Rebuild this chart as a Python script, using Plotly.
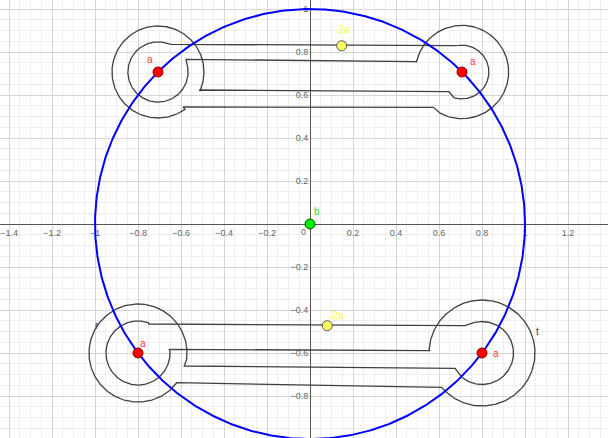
import numpy as np
import plotly.graph_objects as go

# ---------------- data ----------------
X_RANGE = [-1.4419, 1.3860]
Y_RANGE = [-0.9953, 1.0419]

circle_center = [0.0, 0.0]
circle_radius = 1.0

a_x = [-0.707, 0.707, -0.8, 0.8]
a_y = [0.707, 0.707, -0.6, -0.6]
a_labels = ["a", "a", "a", "a"]

m2a_x = [0.147, 0.080]
m2a_y = [0.829, -0.473]
m2a_labels = ["-2a", "-2a"]

b_x = [0.0]
b_y = [0.0]
b_labels = ["b"]

x_ticks = [-1.4, -1.2, -1, -0.8, -0.6, -0.4, -0.2, 0.2, 0.4, 0.6, 0.8, 1, 1.2]
y_ticks = [-0.8, -0.6, -0.4, -0.2, 0.2, 0.4, 0.6, 0.8, 1]

# contour around the upper pair of points
top_centers = {"L": (-0.707, 0.707), "R": (0.707, 0.707)}
top_steps = [
    ("arc", "L", 0.140, 69, 382),
    ("pt", -0.5767, 0.766), ("pt", 0.493, 0.755),
    ("arc", "R", 0.217, 168, -118),
    ("pt", 0.5735, 0.5428), ("pt", -0.5907, 0.5442),
    ("arc", "L", 0.214, -54, -384),
    ("pt", -0.5149, 0.6233), ("pt", 0.6465, 0.6153),
    ("arc", "R", 0.125, -110, 100),
    ("pt", 0.6665, 0.8293), ("pt", -0.6433, 0.8358),
]

# contour around the lower pair of points
bot_centers = {"L": (-0.8, -0.6), "R": (0.8, -0.6)}
bot_steps = [
    ("arc", "L", 0.149, 70, 362),
    ("pt", -0.6544, -0.5828), ("pt", 0.5581, -0.5893),
    ("arc", "R", 0.2465, 176, -133),
    ("pt", 0.6126, -0.7595), ("pt", -0.62, -0.7381),
    ("arc", "L", 0.228, -44, -367),
    ("pt", -0.5847, -0.6605), ("pt", 0.6744, -0.6712),
    ("arc", "R", 0.1465, -129, 112),
    ("pt", 0.7209, -0.473), ("pt", -0.7521, -0.4651),
]

shape_labels = ["t", "r"]
shape_label_x = [1.057, -0.989]
shape_label_y = [-0.4995, -0.47]


def build_path(steps, centers):
    xs, ys = [], []
    for s in steps:
        if s[0] == "arc":
            cx, cy = centers[s[1]]
            r = s[2]
            t = np.radians(np.linspace(s[3], s[4], 240))
            xs += list(cx + r * np.cos(t))
            ys += list(cy + r * np.sin(t))
        else:
            xs.append(s[1])
            ys.append(s[2])
    xs.append(xs[0])
    ys.append(ys[0])
    return xs, ys


fig = go.Figure()

for steps, centers in [(top_steps, top_centers), (bot_steps, bot_centers)]:
    px_, py_ = build_path(steps, centers)
    fig.add_trace(go.Scatter(x=px_, y=py_, mode="lines",
                             line=dict(color="#404040", width=1.3),
                             hoverinfo="skip"))

th = np.linspace(0, 2 * np.pi, 600)
fig.add_trace(go.Scatter(x=circle_center[0] + circle_radius * np.cos(th),
                         y=circle_center[1] + circle_radius * np.sin(th),
                         mode="lines", line=dict(color="#0000ff", width=2),
                         hoverinfo="skip"))

fig.add_trace(go.Scatter(x=a_x, y=a_y, mode="markers",
                         marker=dict(size=10, color="#ff0000",
                                     line=dict(color="#8b0000", width=1))))
fig.add_trace(go.Scatter(x=m2a_x, y=m2a_y, mode="markers",
                         marker=dict(size=10, color="#ffff66",
                                     line=dict(color="#555555", width=1))))
fig.add_trace(go.Scatter(x=b_x, y=b_y, mode="markers",
                         marker=dict(size=10, color="#00ee00",
                                     line=dict(color="#006400", width=1))))

ann = []
a_shift = [(-8, 13), (11, 11), (5, 10), (14, 0)]
for x, y, t, (dx, dy) in zip(a_x, a_y, a_labels, a_shift):
    ann.append(dict(x=x, y=y, text=t, showarrow=False, xshift=dx, yshift=dy,
                    font=dict(size=10, color="#ff3333")))
m_shift = [(1, 16), (9, 10)]
for x, y, t, (dx, dy) in zip(m2a_x, m2a_y, m2a_labels, m_shift):
    ann.append(dict(x=x, y=y, text=t, showarrow=False, xshift=dx, yshift=dy,
                    font=dict(size=10, color="#ffff44")))
for x, y, t in zip(b_x, b_y, b_labels):
    ann.append(dict(x=x, y=y, text=t, showarrow=False, xshift=7, yshift=13,
                    font=dict(size=10, color="#33dd33")))
for x, y, t in zip(shape_label_x, shape_label_y, shape_labels):
    ann.append(dict(x=x, y=y, text=t, showarrow=False,
                    font=dict(size=10, color="#444444")))
ann.append(dict(x=0, y=0, text="0", showarrow=False, xanchor="right",
                yanchor="top", xshift=-2, yshift=-1,
                font=dict(size=9, color="#666666", family="Liberation Sans")))

xpos = (0 - Y_RANGE[0]) / (Y_RANGE[1] - Y_RANGE[0])
ypos = (0 - X_RANGE[0]) / (X_RANGE[1] - X_RANGE[0])

fig.update_layout(
    width=608, height=438,
    margin=dict(l=0, r=0, t=0, b=0, pad=0, autoexpand=False),
    paper_bgcolor="white", plot_bgcolor="white",
    showlegend=False,
    annotations=ann,
    font=dict(family="Liberation Sans", size=9, color="#666666"),
    xaxis=dict(range=X_RANGE, anchor="free", position=xpos, automargin=False,
               tickmode="array", tickvals=x_ticks,
               ticktext=[("%g" % v).replace("-", "\u2212") for v in x_ticks],
               showgrid=True, gridcolor="#d6d6d6", gridwidth=1,
               minor=dict(dtick=0.05, tick0=0, showgrid=True,
                          gridcolor="#eeeeee", gridwidth=1),
               zeroline=False, showline=True, linecolor="#555555", linewidth=1,
               ticks="", ticklabeloverflow="allow", layer="below traces",
               tickfont=dict(size=9, color="#666666")),
    yaxis=dict(range=Y_RANGE, anchor="free", position=ypos, automargin=False,
               tickmode="array", tickvals=y_ticks,
               ticktext=[("%g" % v).replace("-", "\u2212") for v in y_ticks],
               showgrid=True, gridcolor="#d6d6d6", gridwidth=1,
               minor=dict(dtick=0.05, tick0=0, showgrid=True,
                          gridcolor="#eeeeee", gridwidth=1),
               zeroline=False, showline=True, linecolor="#555555", linewidth=1,
               ticks="", ticklabeloverflow="allow", layer="below traces",
               tickfont=dict(size=9, color="#666666")),
)

fig.write_html("out.html",
               config={"displayModeBar": False},
               post_script="document.body.style.margin='0';document.body.style.overflow='hidden';")
